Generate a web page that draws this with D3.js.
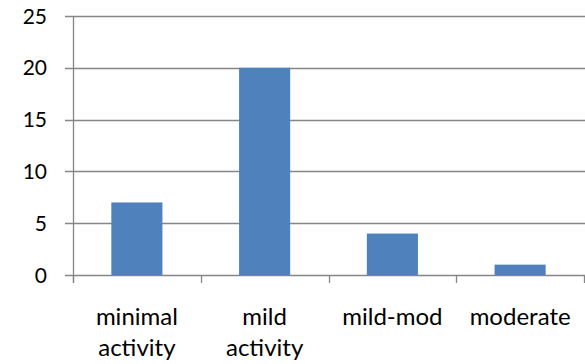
<!DOCTYPE html>
<html><head><meta charset="utf-8">
<script src="https://cdn.jsdelivr.net/npm/d3@7"></script>
<style>body{margin:0;background:#fff}svg{display:block}</style>
</head><body>
<svg id="c" width="585" height="364"></svg>
<script>
const categories = [["minimal","activity"],["mild","activity"],["mild-mod"],["moderate"]];
const values = [7, 20, 4, 1];
const yTicks = [0, 5, 10, 15, 20, 25];

(function () {
const svg = d3.select("#c");
const mL = 73, mR = 584, mT = 16, mB = 275;
const font = "Lato, 'Open Sans', sans-serif";
const grey = "#868686";

const x = d3.scaleBand().domain(d3.range(categories.length)).range([mL, mR]).paddingInner(0.6).paddingOuter(0.3);
const y = d3.scaleLinear().domain([0, 25]).range([mB, mT]);

svg.append("g").selectAll("line").data(yTicks).join("line")
  .attr("x1", mL - 8).attr("x2", mR + 1)
  .attr("y1", d => Math.round(y(d)) + 0.5).attr("y2", d => Math.round(y(d)) + 0.5)
  .attr("stroke", grey).attr("stroke-width", 1.3);

svg.append("line").attr("x1", mL + 0.5).attr("x2", mL + 0.5)
  .attr("y1", mT).attr("y2", mB + 8).attr("stroke", grey).attr("stroke-width", 1.3);

svg.append("g").selectAll("text").data(yTicks).join("text")
  .attr("x", 47).attr("y", d => y(d)).attr("dy", "0.36em")
  .attr("text-anchor", "end").attr("font-family", font).attr("font-size", 21)
  .attr("fill", "#000").text(d => d);

const step = (mR - mL) / categories.length;
svg.append("g").selectAll("line").data(d3.range(categories.length + 1)).join("line")
  .attr("x1", i => Math.round(mL + i * step) + 0.5).attr("x2", i => Math.round(mL + i * step) + 0.5)
  .attr("y1", mB).attr("y2", mB + 8).attr("stroke", grey).attr("stroke-width", 1.3);

svg.append("g").selectAll("rect").data(values).join("rect")
  .attr("x", (d, i) => x(i)).attr("width", x.bandwidth())
  .attr("y", d => y(d)).attr("height", d => y(0) - y(d))
  .attr("fill", "#4F81BD");

const xl = svg.append("g").selectAll("text").data(categories).join("text")
  .attr("x", (d, i) => x(i) + x.bandwidth() / 2).attr("y", 325)
  .attr("text-anchor", "middle").attr("font-family", font).attr("font-size", 24).attr("fill", "#000");
xl.selectAll("tspan").data(d => d).join("tspan")
  .attr("x", function () { return d3.select(this.parentNode).attr("x"); })
  .attr("dy", (d, j) => j === 0 ? 0 : 31).text(d => d);
})();
</script>
</body></html>
